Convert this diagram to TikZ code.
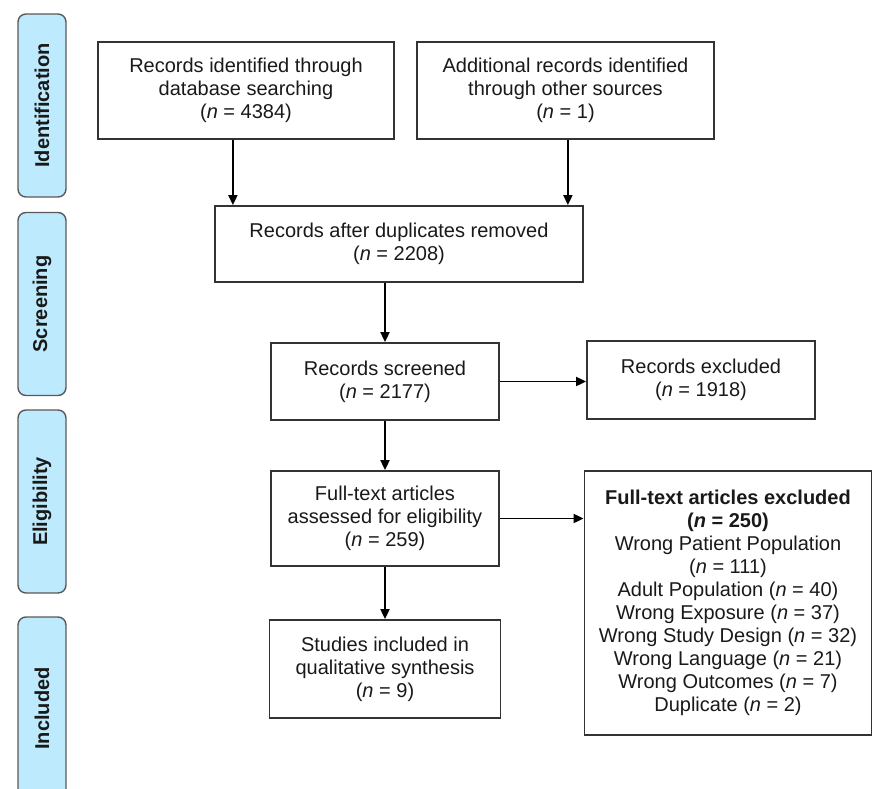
\documentclass[tikz,border=0pt]{standalone}
\usepackage{fontspec}
\setmainfont{Liberation Sans}
\usetikzlibrary{arrows.meta,calc}
\definecolor{stageblue}{RGB}{190,234,253}

\begin{document}
\begin{tikzpicture}[x=1pt,y=-1pt, every node/.style={font=\fontsize{20}{23}\selectfont, text=black!90},
  flowbox/.style={draw=black!80, line width=1.8pt, align=center, inner sep=2pt},
  stagebox/.style={draw=black!65, line width=1.4pt, fill=stageblue, rounded corners=8pt,
    rotate=90, minimum width=183pt, minimum height=48pt, font=\fontsize{20}{23}\selectfont\bfseries},
  arr/.style={-{Triangle[length=10pt,width=9pt]}, line width=1.8pt}]
  \clip (0,0) rectangle (873,789);
  \newcommand{\stagelabel}[3]{
    \node[stagebox] (#1) at (42,#2) {#3};
  }
  % stages on the left
  \stagelabel{ident}{105.5}{Identification}
  \stagelabel{screen}{304}{Screening}
  \stagelabel{elig}{501.5}{Eligibility}
  \stagelabel{incl}{708.5}{Included}

  % flow boxes
  \node[flowbox, minimum width=296pt, minimum height=97pt] (dbsearch) at (246,90.5)
    {Records identified through\\database searching\\(\textit{n} = 4384)};
  \node[flowbox, minimum width=297pt, minimum height=97pt] (other) at (565.5,90.5)
    {Additional records identified\\through other sources\\(\textit{n} = 1)};
  \node[flowbox, minimum width=368pt, minimum height=76pt] (dedup) at (399,244)
    {Records after duplicates removed\\(\textit{n} = 2208)};
  \node[flowbox, minimum width=228pt, minimum height=77pt] (screened) at (385,381.5)
    {Records screened\\(\textit{n} = 2177)};
  \node[flowbox, minimum width=228pt, minimum height=78pt] (recexcl) at (701,380)
    {Records excluded\\(\textit{n} = 1918)};
  \node[flowbox, minimum width=228pt, minimum height=95pt] (fulltext) at (385,518.5)
    {Full-text articles\\assessed for eligibility\\(\textit{n} = 259)};
  \node[flowbox, minimum width=287pt, minimum height=264pt] (ftexcl) at (728,603)
    {\textbf{Full-text articles excluded}\\\textbf{(\textit{n} = 250)}\\
     Wrong Patient Population\\(\textit{n} = 111)\\
     Adult Population (\textit{n} = 40)\\Wrong Exposure (\textit{n} = 37)\\
     Wrong Study Design (\textit{n} = 32)\\Wrong Language (\textit{n} = 21)\\
     Wrong Outcomes (\textit{n} = 7)\\Duplicate (\textit{n} = 2)};
  \node[flowbox, minimum width=231pt, minimum height=98pt] (studies) at (385,669)
    {Studies included in\\qualitative synthesis\\(\textit{n} = 9)};

  % connectors
  \coordinate (dbout) at ($(dbsearch.south west)!0.456!(dbsearch.south east)$);
  \coordinate (otherout) at ($(other.south west)!0.508!(other.south east)$);
  \draw[arr] (dbout) -- (dbout |- dedup.north);
  \draw[arr] (otherout) -- (otherout |- dedup.north);
  \draw[arr] (dedup.south -| screened.north) -- (screened.north);
  \draw[arr] (screened.east) -- (screened.east -| recexcl.west);
  \draw[arr] (screened.south) -- (fulltext.north);
  \draw[arr] (fulltext.east) -- (fulltext.east -| ftexcl.west);
  \draw[arr] (fulltext.south) -- (studies.north);
\end{tikzpicture}
\end{document}
